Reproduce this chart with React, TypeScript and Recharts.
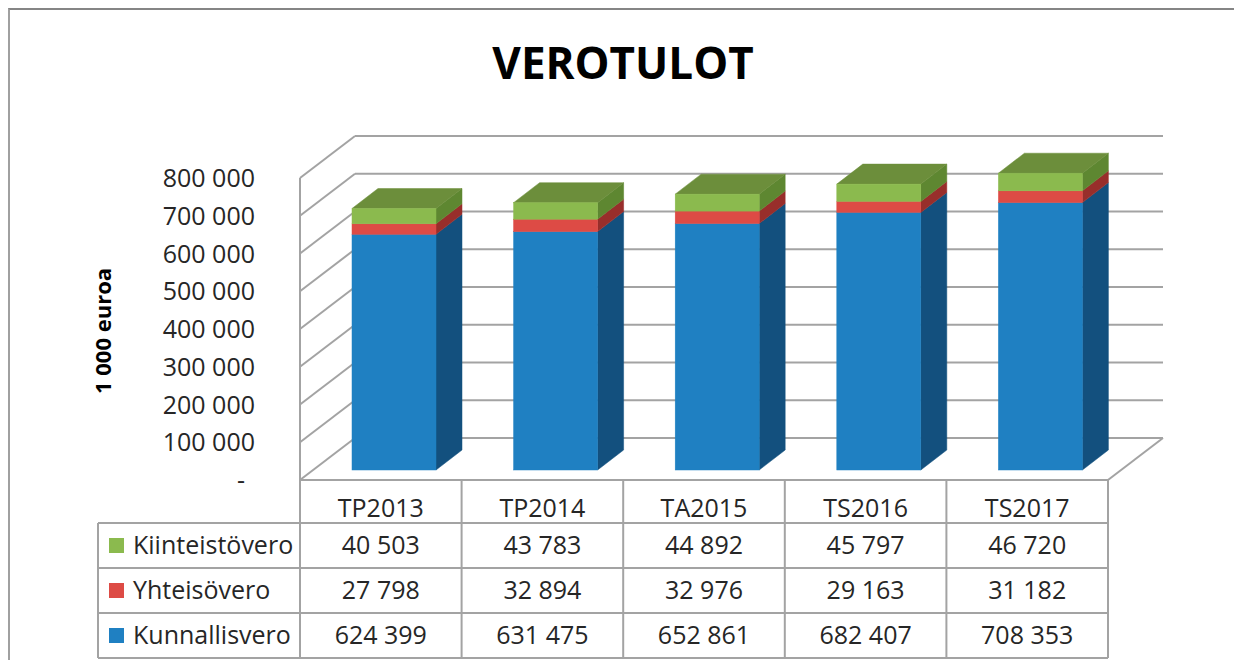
import React from "react";
import { BarChart, Bar, XAxis, YAxis, CartesianGrid } from "recharts";

// data (1 000 euroa)
const categories = ["TP2013", "TP2014", "TA2015", "TS2016", "TS2017"];
const kunnallisvero = [624399, 631475, 652861, 682407, 708353];
const yhteisovero = [27798, 32894, 32976, 29163, 31182];
const kiinteistovero = [40503, 43783, 44892, 45797, 46720];
const yTicks = [0, 100000, 200000, 300000, 400000, 500000, 600000, 700000, 800000];

const data = categories.map((cat, i) => ({
    cat,
    kunnallisvero: kunnallisvero[i],
    yhteisovero: yhteisovero[i],
    kiinteistovero: kiinteistovero[i],
}));

// table rows, top to bottom
const rows = [
    { name: "Kiinteistövero", values: kiinteistovero, color: "#8BBA4E" },
    { name: "Yhteisövero", values: yhteisovero, color: "#DD4B45" },
    { name: "Kunnallisvero", values: kunnallisvero, color: "#1F80C2" },
];

// layout (chart coordinates)
const W = 1230;
const H = 652;
const PLOT_L = 292;
const PLOT_R = 1100;
const PLOT_T = 170;
const PLOT_B = 472;
const DEPTH_X = 55;
const DEPTH_Y = -42;
const BAR_SHIFT_X = 13;
const BAR_SHIFT_Y = -10;
const BAR_DX = 26;
const BAR_DY = -20;
const BAND = (PLOT_R - PLOT_L) / categories.length;
const TABLE_L = 90;
const ROW_LINES = [515, 560, 605, 650];
const ROW_CENTERS = [537, 582, 627];
const HEADER_Y = 500;

const FONT = "'Open Sans', sans-serif";
const GRID = "#a3a3a3";
const TEXT = "#262626";

const fmt = (n: number) => String(n).replace(/\B(?=(\d{3})+(?!\d))/g, " ");

const makeShape = (front: string, side: string, top?: string) => (props: any) => {
    const { x, y, width, height } = props;
    if (width == null || height == null) return <g />;
    const fx = x + BAR_SHIFT_X;
    const fy = y + BAR_SHIFT_Y;
    const w = width;
    const h = height;
    return (
        <g>
            <polygon
                points={`${fx + w},${fy + h} ${fx + w + BAR_DX},${fy + h + BAR_DY} ${fx + w + BAR_DX},${fy + BAR_DY} ${fx + w},${fy}`}
                fill={side}
                stroke={side}
                strokeWidth={0.5}
            />
            {top && (
                <polygon
                    points={`${fx},${fy} ${fx + BAR_DX},${fy + BAR_DY} ${fx + w + BAR_DX},${fy + BAR_DY} ${fx + w},${fy}`}
                    fill={top}
                    stroke={top}
                    strokeWidth={0.5}
                />
            )}
            <rect x={fx} y={fy} width={w} height={h} fill={front} stroke={front} strokeWidth={0.5} />
        </g>
    );
};

// walls and floor, one horizontal grid line at a time
const wallLine = (p: any) => {
    const { x1, x2, y1 } = p;
    const isFloor = Math.abs(y1 - PLOT_B) < 1;
    const isTop = Math.abs(y1 - PLOT_T) < 1;
    return (
        <g key={p.key ?? `w-${y1}`}>
            <line x1={x1} y1={y1} x2={x1 + DEPTH_X} y2={y1 + DEPTH_Y} stroke={GRID} strokeWidth={2} />
            <line x1={x1 + DEPTH_X} y1={y1 + DEPTH_Y} x2={x2 + DEPTH_X} y2={y1 + DEPTH_Y} stroke={GRID} strokeWidth={2} />
            {isFloor && (
                <>
                    <line x1={x2} y1={y1} x2={x2 + DEPTH_X} y2={y1 + DEPTH_Y} stroke={GRID} strokeWidth={2} />
                    <line x1={x1} y1={y1} x2={x2} y2={y1} stroke={GRID} strokeWidth={2} />
                </>
            )}
            {isTop && <line x1={x1} y1={y1} x2={x1} y2={PLOT_B} stroke={GRID} strokeWidth={2} />}
        </g>
    );
};

const YTick = (props: any) => {
    const { y, payload } = props;
    const v = payload.value;
    return (
        <text
            x={v === 0 ? 237 : 247}
            y={y + 9}
            textAnchor="end"
            fontFamily={FONT}
            fontSize={25}
            fill={TEXT}
        >
            {v === 0 ? "-" : fmt(v)}
        </text>
    );
};

// each x tick draws its own column of the data table
const TableColumn = (props: any) => {
    const { x, payload } = props;
    const i = categories.indexOf(payload.value);
    const left = x - BAND / 2;
    const right = x + BAND / 2;
    return (
        <g>
            <line x1={left} y1={PLOT_B} x2={left} y2={ROW_LINES[3]} stroke={GRID} strokeWidth={2} />
            {i === categories.length - 1 && (
                <line x1={right} y1={PLOT_B} x2={right} y2={ROW_LINES[3]} stroke={GRID} strokeWidth={2} />
            )}
            <text x={x} y={HEADER_Y + 9} textAnchor="middle" fontFamily={FONT} fontSize={25} fill={TEXT}>
                {payload.value}
            </text>
            {rows.map((r, k) => (
                <text
                    key={r.name}
                    x={x}
                    y={ROW_CENTERS[k] + 9}
                    textAnchor="middle"
                    fontFamily={FONT}
                    fontSize={25}
                    fill={TEXT}
                >
                    {fmt(r.values[i])}
                </text>
            ))}
        </g>
    );
};

export default function App() {
    return (
        <div style={{ position: "relative", width: W, height: H, background: "#fff" }}>
            <div
                style={{
                    position: "absolute",
                    left: 0,
                    top: 0,
                    width: W,
                    height: H,
                    boxSizing: "border-box",
                    borderTop: "2px solid #858585",
                    borderLeft: "2px solid #a0a0a0",
                    borderRight: "2px solid #a0a0a0",
                }}
            />
            <div style={{ position: "absolute", left: 0, top: 0 }}>
                <BarChart
                    width={W}
                    height={H}
                    data={data}
                    margin={{ top: PLOT_T, right: W - PLOT_R, bottom: 0, left: 0 }}
                    barSize={84}
                >
                    <CartesianGrid vertical={false} horizontal={wallLine} />
                    <YAxis
                        width={PLOT_L}
                        domain={[0, 800000]}
                        ticks={yTicks}
                        interval={0}
                        axisLine={false}
                        tickLine={false}
                        tick={YTick}
                    />
                    <XAxis
                        dataKey="cat"
                        height={H - PLOT_B}
                        interval={0}
                        axisLine={false}
                        tickLine={false}
                        tick={TableColumn}
                    />
                    <Bar
                        dataKey="kunnallisvero"
                        stackId="a"
                        isAnimationActive={false}
                        shape={makeShape("#1F80C2", "#13507E")}
                    />
                    <Bar
                        dataKey="yhteisovero"
                        stackId="a"
                        isAnimationActive={false}
                        shape={makeShape("#DD4B45", "#982E2B")}
                    />
                    <Bar
                        dataKey="kiinteistovero"
                        stackId="a"
                        isAnimationActive={false}
                        shape={makeShape("#8BBA4E", "#5E8731", "#6C8E3B")}
                    />
                </BarChart>
            </div>
            <svg
                width={W}
                height={H}
                style={{ position: "absolute", left: 0, top: 0, pointerEvents: "none" }}
            >
                <text x={615} y={71} textAnchor="middle" fontFamily={FONT} fontWeight={700} fontSize={44} fill="#000">
                    VEROTULOT
                </text>
                <text
                    transform="translate(103, 323) rotate(-90)"
                    textAnchor="middle"
                    fontFamily={FONT}
                    fontWeight={700}
                    fontSize={22}
                    fill="#000"
                >
                    1 000 euroa
                </text>
                {ROW_LINES.map((y) => (
                    <line key={y} x1={TABLE_L} y1={y} x2={PLOT_R} y2={y} stroke={GRID} strokeWidth={2} />
                ))}
                <line x1={TABLE_L} y1={ROW_LINES[0]} x2={TABLE_L} y2={ROW_LINES[3]} stroke={GRID} strokeWidth={2} />
                {rows.map((r, k) => (
                    <g key={r.name}>
                        <rect x={101} y={ROW_CENTERS[k] - 7} width={15} height={15} fill={r.color} />
                        <text x={125} y={ROW_CENTERS[k] + 9} fontFamily={FONT} fontSize={25} fill={TEXT}>
                            {r.name}
                        </text>
                    </g>
                ))}
            </svg>
        </div>
    );
}
